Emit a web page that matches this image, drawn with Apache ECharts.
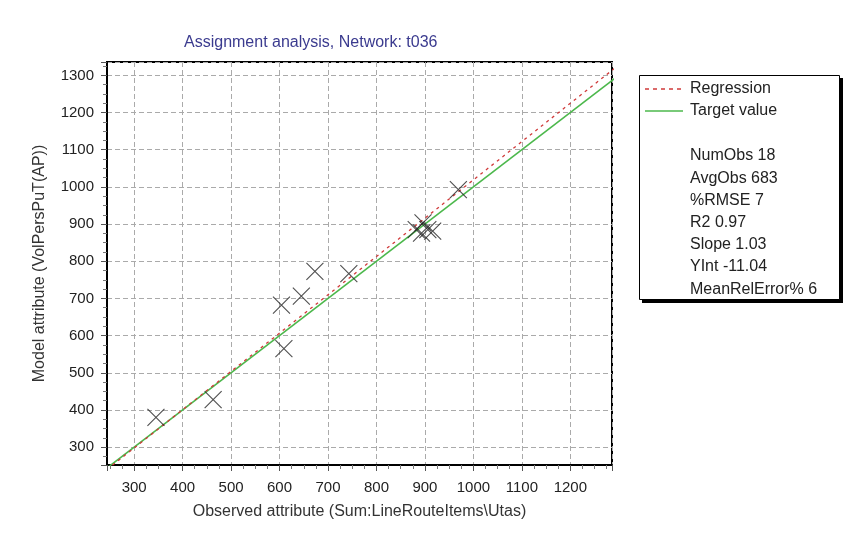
<!DOCTYPE html>
<html>
<head>
<meta charset="utf-8">
<script src="https://cdn.jsdelivr.net/npm/echarts@6/dist/echarts.min.js"></script>
<style>
html,body{margin:0;padding:0;background:#fff;}
#chart{width:860px;height:538px;}
</style>
</head>
<body>
<div id="chart"></div>
<script>
// Observed (x) vs model (y) values
const observed = [345, 463, 604, 609, 645, 673, 743, 969, 896, 882, 906, 916, 893];
const modelled = [380, 428, 682, 565, 706, 773, 767, 993, 903, 885, 885, 881, 876];
// Line end points
const regressionLine = [[244, 240], [1300, 1328]];
const targetLine = [[244, 244], [1300, 1300]];
// Axis extents
const xRange = [244, 1286];
const yRange = [252, 1336];
// Legend / statistics text
const legendNames = ['Regression', 'Target value'];
const statsLines = ['NumObs 18', 'AvgObs 683', '%RMSE 7', 'R2 0.97', 'Slope 1.03', 'YInt -11.04', 'MeanRelError% 6'];
const titleText = 'Assignment analysis, Network: t036';
const xName = 'Observed attribute (Sum:LineRouteItems\\Utas)';
const yName = 'Model attribute (VolPersPuT(AP))';

const points = observed.map((x, i) => [x, modelled[i]]);
const font = 'Liberation Sans, Arial, sans-serif';
const regColor = '#d03a3a';
const tgtColor = '#4cb84c';

const chart = echarts.init(document.getElementById('chart'));

const statsGraphics = statsLines.map((t, i) => ({
  type: 'text', left: 690, top: 148 + i * 22.2, z: 10,
  style: { text: t, fill: '#222', font: '16px ' + font }
}));
const legendGraphics = [
  { type: 'line', shape: { x1: 645, y1: 89, x2: 683, y2: 89 }, style: { stroke: regColor, lineWidth: 1.3, lineDash: [4, 4] }, z: 10 },
  { type: 'line', shape: { x1: 645, y1: 111, x2: 683, y2: 111 }, style: { stroke: tgtColor, lineWidth: 1.6 }, z: 10 },
  { type: 'text', left: 690, top: 81, z: 10, style: { text: legendNames[0], fill: '#222', font: '16px ' + font } },
  { type: 'text', left: 690, top: 103, z: 10, style: { text: legendNames[1], fill: '#222', font: '16px ' + font } }
];

chart.setOption({
  animation: false,
  backgroundColor: '#fff',
  title: {
    text: titleText, left: 179, top: 30,
    textStyle: { color: '#3b3b8f', fontSize: 16, fontWeight: 'normal', fontFamily: font }
  },
  grid: { left: 107, right: 248, top: 62, bottom: 73, show: true, borderColor: '#000', borderWidth: 2, backgroundColor: 'transparent' },
  xAxis: {
    type: 'value', min: xRange[0], max: xRange[1], splitNumber: 10,
    name: xName, nameLocation: 'middle', nameGap: 39,
    nameTextStyle: { color: '#333', fontSize: 16, fontFamily: font },
    axisLine: { show: true, lineStyle: { color: '#000', width: 2 } },
    axisTick: { show: true, length: 6, lineStyle: { color: '#555' } },
    minorTick: { show: true, splitNumber: 4, length: 4, lineStyle: { color: '#777' } },
    axisLabel: { showMinLabel: false, showMaxLabel: false, color: '#222', fontSize: 15, fontFamily: font, margin: 15, formatter: v => String(v) },
    splitLine: { show: true, lineStyle: { color: '#aaa', type: [5, 3], width: 1 } }
  },
  yAxis: {
    type: 'value', min: yRange[0], max: yRange[1], splitNumber: 10,
    name: yName, nameLocation: 'middle', nameGap: 59,
    nameTextStyle: { color: '#333', fontSize: 16, fontFamily: font },
    axisLine: { show: true, lineStyle: { color: '#000', width: 2 } },
    axisTick: { show: true, length: 6, lineStyle: { color: '#555' } },
    minorTick: { show: true, splitNumber: 4, length: 4, lineStyle: { color: '#777' } },
    axisLabel: { showMinLabel: false, showMaxLabel: false, color: '#222', fontSize: 15, fontFamily: font, margin: 13, formatter: v => String(v) },
    splitLine: { show: true, lineStyle: { color: '#aaa', type: [5, 3], width: 1 } }
  },
  series: [
    {
      name: legendNames[0], type: 'line', data: regressionLine, showSymbol: false, symbol: 'none',
      lineStyle: { color: regColor, width: 1.3, type: [3, 4] }, itemStyle: { color: regColor }, z: 3, silent: true
    },
    {
      name: legendNames[1], type: 'line', data: targetLine, showSymbol: false, symbol: 'none',
      lineStyle: { color: tgtColor, width: 1.6 }, itemStyle: { color: tgtColor }, z: 2, silent: true
    },
    {
      name: 'Observations', type: 'scatter', data: points, symbol: 'path://M0,0L10,10M10,0L0,10', symbolSize: 17,
      itemStyle: { color: 'transparent', borderColor: '#222', borderWidth: 1.1 }, z: 4
    }
  ],
  graphic: [
    { type: 'rect', left: 642, top: 78, shape: { width: 201, height: 225 }, style: { fill: '#000' }, z: 0 },
    { type: 'rect', left: 639, top: 75, shape: { width: 200, height: 224 }, style: { fill: '#fff', stroke: '#000', lineWidth: 1 }, z: 1 }
  ].concat(legendGraphics, statsGraphics)
});
</script>
</body>
</html>
